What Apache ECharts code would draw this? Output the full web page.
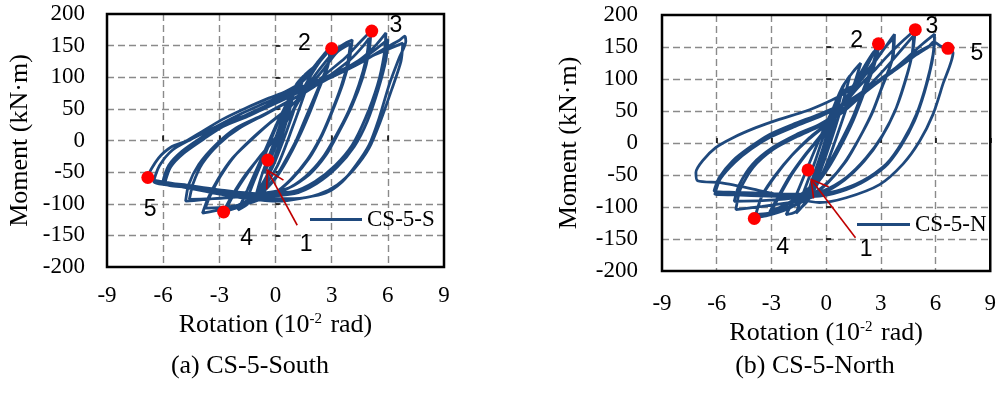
<!DOCTYPE html>
<html><head><meta charset="utf-8">
<script src="https://cdn.jsdelivr.net/npm/echarts@6/dist/echarts.min.js"></script>
<style>html,body{margin:0;padding:0;background:#fff;}#c{width:999px;height:399px;}</style>
</head><body><div id="c"></div>
<script>
// ---------- data (rotation in 1e-2 rad, moment in kN·m) ----------
const xTicks = [-9, -6, -3, 0, 3, 6, 9];
const yTicks = [-200, -150, -100, -50, 0, 50, 100, 150, 200];

const southSmall = [
 [0,0],[0.4,35],[0.6,48],[0.3,15],[-0.2,-25],[-0.6,-52],[-0.3,-22],[0.2,18],
 [0.7,58],[1.0,80],[0.7,42],[0.1,-15],[-0.5,-58],[-1.0,-82],[-0.7,-52],[-0.1,-5],
 [0.5,46],[1.1,88],[1.5,102],[1.2,68],[0.6,15],[-0.2,-45],[-1.0,-85],[-1.6,-100],[-1.2,-68],[-0.5,-18],[0.3,40],
 [1.0,82],[1.6,105],[2.0,115],[1.6,78],[0.9,20],[0.1,-40],[-0.9,-85],[-1.6,-103],[-2.0,-110],[-1.5,-78],[-0.7,-25],[0.2,35],[1.0,78]
];
const south3 = [
 [1.6,100],[2.2,122],[2.7,140],[3.0,148],[2.9,130],[2.6,105],[2.1,70],[1.6,35],[1.1,0],[0.5,-33],[0,-58],[-0.7,-80],[-1.7,-98],[-2.8,-113],
 [-2.3,-86],[-1.6,-54],[-0.9,-28],[0,4],[0.9,46],[1.6,88],[2.3,122],[2.9,143],[2.8,118],[2.3,80],[1.8,42],[1.2,2],[0.6,-32],[0,-60],[-0.8,-85],[-1.8,-103],[-2.7,-112],
 [-2.2,-84],[-1.5,-52],[-0.8,-24],[0.1,8],[1.0,50]
];
const south4 = [
 [1.8,90],[2.6,122],[3.3,145],[3.8,155],[4.1,159],[3.95,128],[3.6,90],[3.05,47],[2.5,9],[1.8,-28],[0.9,-60],[0,-82],[-1,-95],[-2.2,-105],[-3.2,-111],[-3.9,-115],
 [-3.6,-91],[-3.05,-60],[-2.3,-28],[-1.4,-2],[-0.4,25],[0.7,51],[1.6,78],[2.5,110],[3.3,140],[4.0,153],
 [3.85,122],[3.5,85],[2.95,42],[2.4,5],[1.7,-30],[0.8,-62],[-0.1,-84],[-1.2,-97],[-2.5,-105],[-3.75,-107],
 [-3.5,-88],[-2.95,-57],[-2.2,-25],[-1.3,2],[-0.3,28],[0.8,54]
];
const south5 = [
 [1.8,82],[2.8,108],[3.7,130],[4.5,155],[5.1,173],[5.0,141],[4.64,98],[4.1,56],[3.4,14],[2.7,-23],[1.8,-54],[0.7,-75],[-0.8,-84],[-2.5,-90],[-4.0,-94],[-4.8,-96],
 [-4.64,-70],[-4.1,-38],[-3.2,-7],[-2.1,20],[-0.7,40],[0.5,59],[1.8,80],[3.0,105],[4.0,128],[4.7,150],[5.0,162],
 [4.85,130],[4.45,88],[3.9,46],[3.2,6],[2.5,-28],[1.6,-57],[0.5,-78],[-1.0,-86],[-2.8,-91],[-4.6,-93],
 [-4.4,-68],[-3.9,-36],[-3.0,-5],[-1.9,20],[-0.5,42],[0.6,60]
];
const south6 = [
 [2.0,84],[3.4,108],[4.6,130],[5.4,152],[5.9,170],[5.8,135],[5.45,88],[4.8,35],[4.1,-7],[3.2,-39],[2.1,-65],[0.9,-81],[-1.0,-84],[-3.0,-78],[-4.8,-70],[-6.0,-64],
 [-5.7,-39],[-5.0,-17],[-3.9,6],[-2.9,25],[-1.6,40],[0,62],[1.5,82],[3.0,102],[4.5,126],[5.6,150],[6.0,160],
 [5.9,128],[5.5,82],[4.9,30],[4.2,-10],[3.3,-42],[2.2,-68],[1.0,-84],[-1.0,-88],[-3.0,-82],[-4.8,-74],[-5.9,-68],
 [-5.6,-42],[-4.9,-20],[-3.8,3],[-2.8,22],[-1.5,38],[0.1,60]
];
const south7 = [
 [1.5,80],[3.0,100],[4.5,122],[5.8,145],[6.6,158],[6.9,165],[6.96,157],[6.6,130],[6.07,88],[5.53,35],[5.0,-7],[4.3,-39],[3.57,-65],[2.68,-83],[1.43,-91],[0.18,-96],[-1.5,-92],[-3.5,-82],[-5.2,-72],[-6.5,-65],
 [-6.2,-40],[-5.5,-15],[-4.5,2],[-3.3,20],[-2.0,40],[-0.5,60],[1.0,80],[2.5,98],[4.0,118],[5.5,138],[6.8,154],
 [6.7,125],[6.2,80],[5.6,30],[5.0,-12],[4.2,-45],[3.3,-70],[2.3,-85],[1.0,-92],[-1.0,-90],[-3.0,-80],[-5.0,-70],[-6.3,-64],[-6.82,-58.5],
 [-6.25,-28],[-5.53,-9.5],[-4.82,-1.6],[-3.93,14],[-2.86,33],[-1.6,51],[-0.36,67],[0.54,77.5],[1.43,93],[2.14,114]
];

const northSmall = [
 [0,0],[0.3,30],[0.5,48],[0.2,15],[-0.3,-30],[-0.7,-58],[-0.4,-30],[0.1,12],
 [0.6,60],[0.9,85],[0.6,50],[0,-12],[-0.7,-65],[-1.1,-90],[-0.8,-60],[-0.2,-10],
 [0.4,50],[1.0,92],[1.3,105],[1.0,72],[0.4,15],[-0.4,-50],[-1.2,-95],[-1.65,-110],[-1.3,-82],[-0.6,-28],[0.2,40],
 [0.9,88],[1.5,112],[1.9,125],[1.5,88],[0.8,28],[0,-35],[-1.0,-90],[-1.7,-108],[-2.2,-112],[-1.7,-85],[-0.9,-30],[0,30],[0.9,80]
];
const north3 = [
 [1.65,92],[2.2,118],[2.6,140],[2.87,155],[2.56,123],[2.01,81],[1.46,40],[0.73,-2],[0,-39],[-0.73,-65],[-1.65,-86],[-2.5,-100],[-3.0,-106],
 [-2.5,-80],[-1.9,-50],[-1.1,-18],[-0.3,10],[0.6,45],[1.3,80],[2.0,115],[2.6,142],[2.9,150],
 [2.6,118],[2.05,76],[1.5,36],[0.8,-5],[0.1,-40],[-0.6,-66],[-1.6,-88],[-2.5,-102],[-3.1,-108],
 [-2.6,-82],[-2.0,-52],[-1.2,-20],[-0.4,8],[0.5,42]
];
const north4 = [
 [1.4,80],[2.3,112],[3.0,140],[3.5,160],[3.75,170],[3.66,133],[3.11,91.5],[2.56,50],[1.83,8],[1.1,-28],[0.18,-59],[-0.73,-80],[-2.0,-100],[-3.2,-110],[-3.85,-111.5],
 [-3.48,-80],[-2.75,-49],[-1.84,-18],[-0.92,8],[0.18,34],[0.91,60],[1.8,95],[2.7,130],[3.4,155],[3.7,163],
 [3.6,128],[3.05,86],[2.5,45],[1.75,4],[1.0,-31],[0.1,-62],[-0.8,-83],[-2.1,-103],[-3.3,-114],[-3.9,-116],
 [-3.55,-85],[-2.8,-52],[-1.9,-20],[-0.95,6],[0.15,32],[0.9,58]
];
const north5 = [
 [1.7,85],[2.6,112],[3.5,140],[4.3,162],[4.89,177],[4.76,144],[4.4,102],[3.85,55],[3.11,13],[2.2,-23],[1.1,-54],[-0.18,-75],[-1.5,-85],[-3.5,-90],[-5.04,-91],
 [-4.76,-65],[-4.03,-33],[-2.93,-7],[-1.65,13],[-0.37,29],[0.8,50],[2.0,80],[3.2,115],[4.2,148],[4.8,168],
 [4.7,136],[4.3,94],[3.75,48],[3.0,7],[2.1,-28],[1.0,-58],[-0.3,-80],[-1.8,-92],[-3.5,-99],[-4.95,-104],
 [-4.7,-72],[-4.0,-38],[-2.9,-10],[-1.6,10],[-0.3,27],[0.9,48]
];
const north6 = [
 [2.1,78],[3.3,105],[4.4,132],[5.3,155],[5.95,170],[5.86,138],[5.49,91.5],[4.95,44.7],[4.21,3],[3.3,-33],[2.01,-59],[0.55,-75],[-1.0,-80],[-3.0,-79],[-5.0,-77],[-6.14,-75],
 [-5.86,-54],[-5.13,-28],[-4.2,-7],[-3.1,13.4],[-1.84,29],[-0.37,45],[1.0,62],[2.4,88],[3.7,115],[4.9,140],[5.95,156],
 [5.8,125],[5.4,80],[4.85,35],[4.1,-5],[3.2,-38],[1.9,-63],[0.4,-79],[-1.2,-84],[-3.2,-83],[-5.0,-81],[-6.1,-80],
 [-5.8,-56],[-5.0,-30],[-4.1,-9],[-3.0,10],[-1.7,26],[-0.3,42],[1.0,60]
];
const north7 = [
 [2.3,86],[3.6,110],[4.8,135],[5.6,150],[5.9,158],[6.3,151],[6.68,148],[6.96,141],[6.4,91.5],[5.86,44.7],[5.13,3],[4.21,-33],[2.93,-65],[1.1,-85.5],[-0.37,-93],[-2.0,-85],[-4.0,-72],[-5.8,-62],[-7.05,-59],[-7.14,-46],
 [-6.78,-28],[-6.04,-7],[-5.13,8],[-3.85,24],[-2.57,37],[-1.1,50],[0,63],[0.91,76],[1.65,91.5],[2.2,117]
];

// marked points [x, y] and their number labels [x, y, text]
const southPoints = [[-0.41,-31],[3.0,145.5],[5.14,173],[-2.77,-113],[-6.82,-58.5]];
const southLabels = [[1.64,-165,'1'],[1.55,153,'2'],[6.43,182,'3'],[-1.54,-155,'4'],[-6.7,-109,'5']];
const southArrow = [[1.16,-134,-0.44,-47]];
const northPoints = [[-0.99,-42],[2.87,155],[4.89,177],[-3.94,-118],[6.68,148]];
const northLabels = [[2.2,-167,'1'],[1.68,160,'2'],[5.8,182,'3'],[-2.38,-164,'4'],[8.27,139,'5']];
const northArrow = [[1.61,-148,-0.82,-57]];

const seriesNames = ['CS-5-S', 'CS-5-N'];
const captions = ['(a) CS-5-South', '(b) CS-5-North'];

// ---------- chart ----------
const southCurve = [].concat(southSmall, south3, south4, south5, south6, south7);
const northCurve = [].concat(northSmall, north3, north4, north5, north6, north7);

const SERIF = 'Liberation Serif';
const BLUE = '#1F497D';

function xAxisFor(i, labelMargin, nameGap) {
  return {
    gridIndex: i, type: 'value', min: xTicks[0], max: xTicks[xTicks.length-1], interval: 3,
    axisLine: {show: false},
    axisTick: {show: true, inside: true, length: 5, lineStyle: {color: '#000', width: 1.5}},
    axisLabel: {margin: labelMargin, color: '#000', fontFamily: SERIF, fontSize: 23},
    splitLine: {show: true, showMinLine: false, showMaxLine: false,
      lineStyle: {color: '#8a8a8a', type: [7, 4], width: 1.4}},
    name: 'Rotation (10{sup|-2} rad)', nameLocation: 'middle', nameGap: nameGap,
    nameTextStyle: {color: '#000', fontFamily: SERIF, fontSize: 26,
      rich: {sup: {fontSize: 15, fontFamily: SERIF, color: '#000', verticalAlign: 'top', padding: [0, 2, 12, 0]}}}
  };
}
function yAxisFor(i, labelMargin, nameGap) {
  return {
    gridIndex: i, type: 'value', min: yTicks[0], max: yTicks[yTicks.length-1], interval: 50,
    axisLine: {show: false},
    axisTick: {show: true, inside: true, length: 5, lineStyle: {color: '#000', width: 1.5}},
    axisLabel: {margin: labelMargin, color: '#000', fontFamily: SERIF, fontSize: 23},
    splitLine: {show: true, showMinLine: false, showMaxLine: false,
      lineStyle: {color: '#8a8a8a', type: [7, 4], width: 1.4}},
    name: 'Moment (kN·m)', nameLocation: 'middle', nameGap: nameGap,
    nameTextStyle: {color: '#000', fontFamily: SERIF, fontSize: 26}
  };
}

function arrowRender(params, api) {
  const t = api.coord([api.value(0), api.value(1)]);
  const h = api.coord([api.value(2), api.value(3)]);
  const ang = Math.atan2(t[1] - h[1], t[0] - h[0]);
  const L = 19, a = Math.PI / 6;
  const b1 = [h[0] + L * Math.cos(ang + a), h[1] + L * Math.sin(ang + a)];
  const b2 = [h[0] + L * Math.cos(ang - a), h[1] + L * Math.sin(ang - a)];
  const st = {stroke: '#C00000', lineWidth: 1.6, fill: null};
  return {type: 'group', children: [
    {type: 'line', shape: {x1: t[0], y1: t[1], x2: h[0], y2: h[1]}, style: st},
    {type: 'polyline', shape: {points: [b1, h, b2]}, style: st}
  ]};
}
function labelRender(params, api) {
  const p = api.coord([api.value(0), api.value(1)]);
  return {type: 'text', x: p[0], y: p[1],
    style: {text: String(labelSets[params.seriesIndex][params.dataIndex][2]), fill: '#000',
      font: '23px "Liberation Sans"', align: 'center', verticalAlign: 'middle'}};
}
function frameRender(params, api) {
  const cs = params.coordSys;
  return {type: 'rect', shape: {x: cs.x, y: cs.y, width: cs.width, height: cs.height},
    style: {fill: null, stroke: '#000', lineWidth: 2.5}};
}

const labelSets = {};
function seriesFor(i, curve, pts, labels, arrow, baseIndex) {
  labelSets[baseIndex + 4] = labels;
  return [
    {type: 'custom', xAxisIndex: i, yAxisIndex: i, data: [[0, 0]], renderItem: frameRender,
     z: 1, animation: false, silent: true, clip: false},
    {name: seriesNames[i], type: 'line', xAxisIndex: i, yAxisIndex: i, data: curve,
     showSymbol: false, symbol: 'none', smooth: 0.25, lineStyle: {color: BLUE, width: 2.8},
     itemStyle: {color: BLUE}, z: 2, animation: false},
    {type: 'custom', xAxisIndex: i, yAxisIndex: i, data: arrow, renderItem: arrowRender,
     encode: {x: [0, 2], y: [1, 3]}, z: 4, animation: false, silent: true},
    {type: 'scatter', xAxisIndex: i, yAxisIndex: i, data: pts, symbolSize: 13,
     itemStyle: {color: '#FF0000', opacity: 1}, z: 5, animation: false},
    {type: 'custom', xAxisIndex: i, yAxisIndex: i, data: labels.map(l => [l[0], l[1]]),
     renderItem: labelRender, z: 6, animation: false, silent: true, clip: false}
  ];
}

const chart = echarts.init(document.getElementById('c'), null, {renderer: 'canvas'});
chart.setOption({
  animation: false,
  backgroundColor: '#fff',
  title: [
    {text: captions[0], left: 250, top: 353, textAlign: 'center', padding: 0,
     textStyle: {fontFamily: SERIF, fontSize: 26, fontWeight: 'normal', color: '#000'}},
    {text: captions[1], left: 815, top: 353, textAlign: 'center', padding: 0,
     textStyle: {fontFamily: SERIF, fontSize: 26, fontWeight: 'normal', color: '#000'}}
  ],
  legend: [
    {data: [seriesNames[0]], left: 310, top: 208, padding: 0, itemWidth: 52, itemHeight: 3, icon: 'rect',
     itemGap: 5, textStyle: {fontFamily: SERIF, fontSize: 23, color: '#000'}},
    {data: [seriesNames[1]], left: 857, top: 213, padding: 0, itemWidth: 53, itemHeight: 3, icon: 'rect',
     itemGap: 5, textStyle: {fontFamily: SERIF, fontSize: 23, color: '#000'}}
  ],
  grid: [
    {left: 107, top: 14, width: 337, height: 253, show: false},
    {left: 662, top: 15, width: 329, height: 256, show: false}
  ],
  xAxis: [xAxisFor(0, 17, 37), xAxisFor(1, 21, 48)],
  yAxis: [yAxisFor(0, 22, 74), yAxisFor(1, 24, 80)],
  series: [].concat(
    seriesFor(0, southCurve, southPoints, southLabels, southArrow, 0),
    seriesFor(1, northCurve, northPoints, northLabels, northArrow, 5)
  )
});
</script>
</body></html>
